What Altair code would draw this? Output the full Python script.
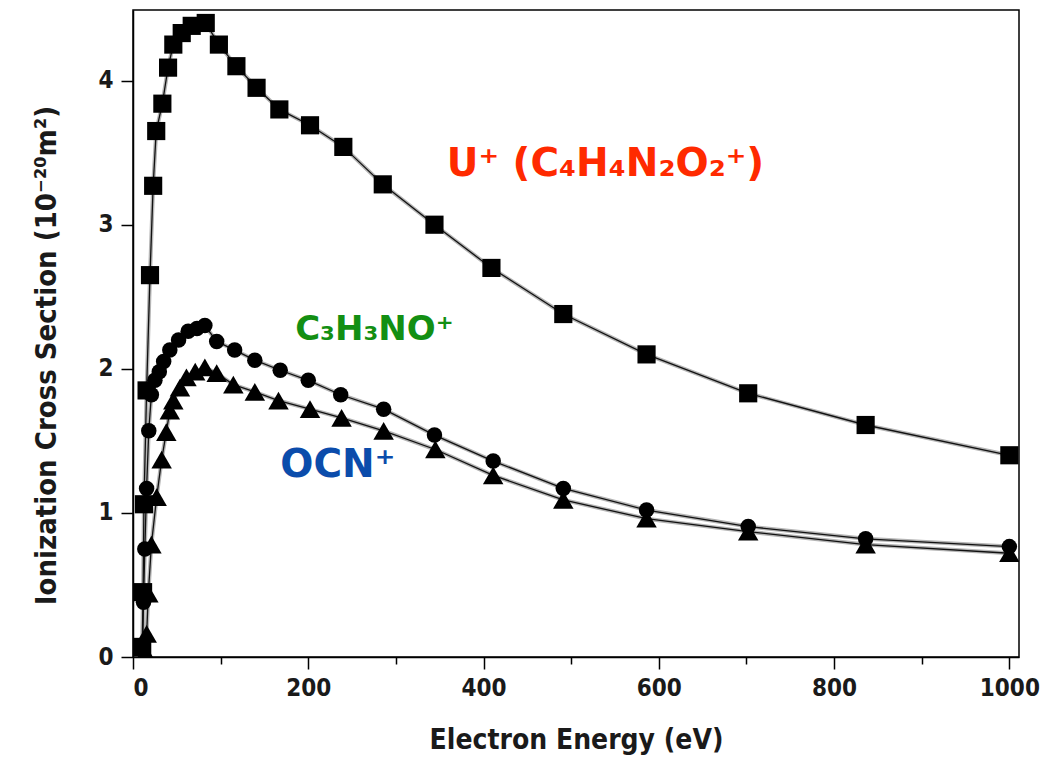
import altair as alt
import pandas as pd

# Ionization cross sections (10^-20 m^2) versus electron energy (eV)
u_energy = [10.5, 11.5, 12.5, 15.5, 19.4, 23, 26.5, 33.5, 40, 46, 55.6, 67, 83, 98,
            118, 141, 167, 202, 240, 285, 344, 409, 491, 586, 702, 836, 1000]
u_sigma = [0.07, 0.45, 1.06, 1.85, 2.65, 3.27, 3.65, 3.84, 4.09, 4.25, 4.33, 4.38, 4.40, 4.25,
           4.10, 3.95, 3.80, 3.69, 3.54, 3.28, 3.00, 2.70, 2.38, 2.10, 1.83, 1.61, 1.40]

c3_energy = [11, 12, 13.5, 15.5, 18, 21, 25, 30, 35, 42, 52, 63, 73, 82, 95.5, 116,
             139, 168, 200, 237, 286, 344, 411, 491, 586, 702, 836, 1000]
c3_sigma = [0.05, 0.38, 0.75, 1.17, 1.57, 1.82, 1.92, 1.98, 2.05, 2.13, 2.20, 2.26, 2.28, 2.30, 2.19, 2.13,
            2.06, 1.99, 1.92, 1.82, 1.72, 1.54, 1.36, 1.17, 1.02, 0.905, 0.82, 0.766]

ocn_energy = [14, 15.6, 17.5, 21, 27, 32.7, 38, 42, 46, 53.6, 61, 71, 82, 95.5, 114.5,
              139, 166, 202, 238, 286, 345, 411, 491, 586, 702, 836, 1000]
ocn_sigma = [0.03, 0.16, 0.44, 0.78, 1.11, 1.37, 1.56, 1.71, 1.78, 1.87, 1.94, 1.98, 2.01, 1.97, 1.89,
             1.84, 1.78, 1.72, 1.66, 1.57, 1.44, 1.26, 1.09, 0.96, 0.87, 0.78, 0.72]

series_names = ["U", "C3H3NO", "OCN"]
series_shapes = ["square", "circle", "triangle-up"]
series_sizes = [330, 240, 420]

label_texts = ["U⁺ (C₄H₄N₂O₂⁺)", "C₃H₃NO⁺", "OCN⁺"]
label_energy = [358, 185, 168]
label_sigma = [3.42, 2.27, 1.33]
label_colors = ["#ff2a00", "#138f13", "#0b4cab"]
label_sizes = [39, 34, 39]

rows = []
series_data = [(u_energy, u_sigma), (c3_energy, c3_sigma), (ocn_energy, ocn_sigma)]
for name, msize, (es, ss) in zip(series_names, series_sizes, series_data):
    for i, (e, s) in enumerate(zip(es, ss)):
        rows.append({"series": name, "energy": e, "sigma": s, "order": i, "msize": msize})
df = pd.DataFrame(rows)

labels = pd.DataFrame({"text": label_texts, "energy": label_energy, "sigma": label_sigma,
                       "color": label_colors, "fsize": label_sizes})

AXIS_FONT = "DejaVu Sans Condensed, DejaVu Sans, sans-serif"

x_scale = alt.Scale(domain=[0, 1011], nice=False, zero=False)
y_scale = alt.Scale(domain=[0, 4.49], nice=False)

x_axis = alt.Axis(
    title="Electron Energy (eV)",
    values=list(range(0, 1001, 100)),
    format="d",
    labelExpr="datum.value % 200 === 0 ? datum.label : ''",
    tickSize={"condition": {"test": "datum.value % 200 === 0", "value": 12}, "value": 7},
    grid=False, domain=True, domainColor="black", tickColor="black", domainWidth=1.5, tickWidth=1.5,
    labelFont=AXIS_FONT, labelFontSize=24, labelFontWeight="bold", labelColor="#1a1a1a", labelPadding=7,
    titleFont=AXIS_FONT, titleFontSize=28, titleFontWeight="bold", titleColor="#1a1a1a", titlePadding=26,
)
y_axis = alt.Axis(
    title="Ionization Cross Section (10⁻²⁰m²)",
    values=[0, 0.5, 1, 1.5, 2, 2.5, 3, 3.5, 4],
    format="d",
    labelExpr="datum.value % 1 === 0 ? datum.label : ''",
    tickSize={"condition": {"test": "datum.value % 1 === 0", "value": 12}, "value": 7},
    grid=False, domain=True, domainColor="black", tickColor="black", domainWidth=1.5, tickWidth=1.5,
    labelFont=AXIS_FONT, labelFontSize=24, labelFontWeight="bold", labelColor="#1a1a1a", labelPadding=8,
    titleFont=AXIS_FONT, titleFontSize=29, titleFontWeight="bold", titleColor="#1a1a1a", titlePadding=36,
    titleY=345,
)

x_enc = alt.X("energy:Q", scale=x_scale, axis=x_axis)
y_enc = alt.Y("sigma:Q", scale=y_scale, axis=y_axis)

base = alt.Chart(df)

halo = base.mark_line(color="#b5b5b5", strokeWidth=4, clip=True).encode(
    x=x_enc, y=y_enc, detail="series:N", order="order:Q")
core = base.mark_line(color="#111111", strokeWidth=1.3, clip=True).encode(
    x=x_enc, y=y_enc, detail="series:N", order="order:Q")
points = base.mark_point(filled=True, opacity=1, color="black", clip=True).encode(
    x=x_enc, y=y_enc,
    shape=alt.Shape("series:N", scale=alt.Scale(domain=series_names, range=series_shapes), legend=None),
    size=alt.Size("msize:Q", scale=None),
)
text = alt.Chart(labels).mark_text(
    align="left", baseline="middle", font="DejaVu Sans", fontWeight="bold"
).encode(
    x=alt.X("energy:Q", scale=x_scale),
    y=alt.Y("sigma:Q", scale=y_scale),
    text="text:N",
    color=alt.Color("color:N", scale=None),
    size=alt.Size("fsize:Q", scale=None),
)

chart = alt.layer(halo, core, points, text).properties(
    width=886, height=647,
    autosize=alt.AutoSizeParams(type="none"),
    padding={"left": 133, "top": 10, "right": 27, "bottom": 109},
    background="white",
).configure_view(stroke="black", strokeWidth=1.5)

chart.save("out.html", embed_options={"renderer": "svg", "actions": False})
